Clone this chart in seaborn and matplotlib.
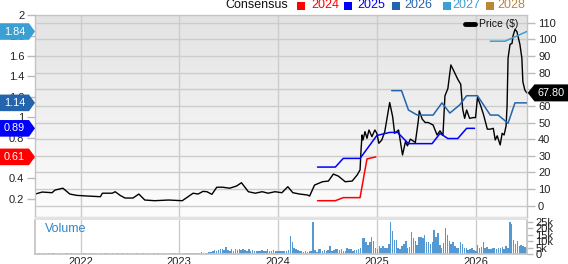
import numpy as np
import pandas as pd
import matplotlib
matplotlib.use("Agg")
import matplotlib.pyplot as plt
import seaborn as sns
from matplotlib.patches import Polygon, Rectangle
from matplotlib.lines import Line2D
from matplotlib.transforms import IdentityTransform
from matplotlib.colors import LinearSegmentedColormap

# ---------------- data ----------------
price_t = [2021.54, 2021.61, 2021.71, 2021.74, 2021.82, 2021.89, 2021.96, 2022.07, 2022.20, 2022.22,
           2022.32, 2022.35, 2022.40, 2022.45, 2022.53, 2022.59, 2022.65, 2022.75, 2022.89, 2023.03,
           2023.14, 2023.19, 2023.24, 2023.28, 2023.33, 2023.38, 2023.44, 2023.51, 2023.58, 2023.63,
           2023.70, 2023.77, 2023.84, 2023.90, 2023.97, 2024.04, 2024.10, 2024.15, 2024.22, 2024.30,
           2024.32, 2024.37, 2024.45, 2024.51, 2024.56, 2024.61, 2024.68, 2024.75, 2024.80, 2024.83,
           2024.84, 2024.85, 2024.86, 2024.88, 2024.90, 2024.92, 2024.95, 2024.98, 2025.00, 2025.02,
           2025.05, 2025.08, 2025.13, 2025.16, 2025.18, 2025.22, 2025.26, 2025.29, 2025.31, 2025.34,
           2025.39, 2025.42, 2025.43, 2025.46, 2025.49, 2025.52, 2025.57, 2025.61, 2025.64, 2025.67,
           2025.69, 2025.72, 2025.75, 2025.78, 2025.82, 2025.85, 2025.87, 2025.89, 2025.91, 2025.94,
           2025.98, 2026.00, 2026.02, 2026.05, 2026.08, 2026.12, 2026.15, 2026.18, 2026.20, 2026.22,
           2026.25, 2026.27, 2026.29, 2026.31, 2026.32, 2026.33, 2026.35, 2026.37, 2026.38, 2026.40,
           2026.42, 2026.43, 2026.45, 2026.47, 2026.48, 2026.50, 2026.52]
price_v = [7.0, 8.2, 7.8, 9.4, 10.5, 7.0, 6.2, 5.8, 5.4, 7.5,
           7.5, 8.4, 6.2, 4.6, 4.6, 7.0, 3.4, 3.0, 3.4, 3.0,
           7.5, 7.0, 8.6, 8.4, 6.8, 11.1, 11.1, 10.5, 11.8, 13.8,
           8.4, 7.5, 8.4, 7.5, 8.4, 7.8, 11.4, 7.8, 7.0, 6.4,
           5.8, 12.4, 14.4, 14.8, 19.0, 17.8, 14.4, 14.8, 18.4, 21.5,
           33.5, 42.5, 39.5, 44.5, 40.5, 45.5, 41.5, 45.5, 43.5, 37.5,
           39.5, 44.5, 62.0, 53.5, 43.5, 45.5, 30.5, 38.5, 36.0, 40.0,
           38.0, 51.0, 57.0, 52.0, 50.0, 50.0, 48.5, 42.5, 45.0, 42.4,
           66.0, 70.5, 84.6, 81.0, 76.0, 73.0, 58.0, 52.5, 57.5, 52.5,
           53.0, 52.9, 65.0, 60.5, 55.0, 46.0, 46.0, 46.5, 39.5, 42.0,
           36.5, 43.5, 42.5, 48.0, 60.0, 88.7, 97.0, 97.5, 102.0, 106.0,
           104.6, 102.0, 97.0, 88.6, 74.5, 69.5, 67.8]

eps2024_t = [2024.40, 2024.58, 2024.66, 2024.83, 2024.90, 2024.99]
eps2024_v = [0.18, 0.18, 0.21, 0.21, 0.59, 0.61]
eps2025_t = [2024.40, 2024.58, 2024.66, 2024.83, 2025.00, 2025.13, 2025.21, 2025.32, 2025.56,
             2025.64, 2025.72, 2025.82, 2025.91, 2025.99]
eps2025_v = [0.51, 0.51, 0.595, 0.595, 0.82, 0.85, 0.85, 0.74, 0.74, 0.84, 0.79, 0.79, 0.89, 0.89]
eps2026_t = [2025.15, 2025.25, 2025.32, 2025.41, 2025.57, 2025.66, 2025.74, 2025.84, 2025.91,
             2026.02, 2026.15, 2026.23, 2026.33, 2026.40, 2026.52]
eps2026_v = [1.26, 1.26, 1.07, 1.02, 1.02, 1.14, 1.04, 1.12, 1.21, 1.21, 1.02, 1.02, 0.94, 1.14, 1.14]
eps2027_t = [2026.15, 2026.30, 2026.52]
eps2027_v = [1.745, 1.745, 1.84]

# weekly volume (thousands), starting mid-July 2021
volume_start = "2021-07-16"
volume_k = [
    0.4, 0.3, 0.5, 0.3, 0.4, 0.6, 0.3, 0.4, 0.3, 0.5,
    0.4, 0.3, 0.3, 0.5, 0.4, 0.3, 0.6, 0.4, 0.3, 0.4,
    0.3, 0.5, 0.3, 0.4, 0.3, 0.3, 0.4, 0.5, 0.3, 0.4,
    0.3, 0.4, 0.6, 0.3, 0.3, 0.4, 0.3, 0.5, 0.4, 0.3,
    0.3, 0.4, 0.3, 0.3, 0.5, 0.3, 0.4, 0.3, 0.3, 0.4,
    0.3, 0.3, 0.4, 0.3, 0.5, 0.3, 0.3, 0.4, 0.3, 0.3,
    0.4, 0.3, 0.3, 0.5, 0.3, 0.4, 0.3, 0.3, 0.4, 0.3,
    0.3, 0.4, 0.3, 0.5, 0.4, 0.3, 0.4, 0.3, 0.4, 0.5,
    0.4,
    0.6, 0.8, 0.5, 0.7, 1.0, 0.6, 0.8, 1.2, 0.7, 0.9, 1.0, 1.3,
    1.5, 2.5, 3, 2.5, 3, 3.5, 4, 3, 5.5, 3, 2.5, 4, 2.5, 3.5, 3, 4, 3, 4, 3, 2.5,
    3.5, 2.5, 3, 2, 2.5, 2, 2, 3, 2, 2.5, 3.5, 2.5, 2, 3, 2.5, 2,
    2, 2.5, 2, 2.5, 2, 3, 14, 9.5, 5, 3.5, 3, 2.5, 2, 1.5, 2, 1.5, 2, 2.5, 24.5, 3,
    1.5, 3.5, 3.5, 2.5, 3, 2, 3, 6, 2.5, 3, 4, 4, 3, 3.5, 2, 2.5, 5, 3.5, 3.5, 2.5,
    3, 3, 4, 5, 12.5, 12.5, 9, 7, 9.5, 13, 10, 5, 4, 6, 4.5, 6.5, 5, 4.5, 8, 24.5,
    18, 11, 11, 5, 4, 6, 8, 10, 5, 5.5, 17, 12, 10, 7, 13, 13, 12, 15, 9.5, 9.5,
    8, 9.5, 18.5, 13.5, 16, 7, 5, 8.5, 20, 15, 10, 8, 9, 6, 5, 4.5, 9, 8, 5, 4.5,
    3, 4, 4.5, 3, 2.5, 7, 5, 5.5, 9, 4.5, 5.5, 4, 3.5, 4.5, 5, 4, 5, 5, 5.5, 4,
    6, 5, 25, 23, 11, 8, 10, 6, 7, 6.5, 5.5, 5]

year_ticks = [2022, 2023, 2024, 2025, 2026]
consensus_years = ["2024", "2025", "2026", "2027", "2028"]
consensus_colors = ["#ff0000", "#0000ff", "#2464ad", "#3a9fd3", "#b8873a"]
flag_values = [1.84, 1.14, 0.89, 0.61]
flag_colors = ["#3a9fd3", "#2464ad", "#0000ff", "#ff0000"]
last_price = 67.80


def to_dt(ts):
    out = []
    for t in ts:
        y = int(np.floor(t))
        start = pd.Timestamp(year=y, month=1, day=1)
        days = (pd.Timestamp(year=y + 1, month=1, day=1) - start).days
        out.append(start + pd.Timedelta(days=(t - y) * days))
    return pd.to_datetime(out)


# ---------------- figure ----------------
sns.set_theme(style="white")
plt.rcParams["font.family"] = ["Liberation Sans", "DejaVu Sans"]

W, H = 568, 264
fig = plt.figure(figsize=(W / 100, H / 100), dpi=100)
fig.patch.set_facecolor("white")


def px_rect(l, t, r, b):
    return [l / W, 1 - b / H, (r - l) / W, (b - t) / H]


L, R = 35.3, 527.0
PT, PB = 14.7, 216.5
VT, VB = 219.5, 254.0

grid_c = "#cccccc"
spine_c = "#c4c4c4"
tick_c = "#bbbbbb"
lab_c = "#222222"

# gradient background
bg = fig.add_axes(px_rect(L, PT, R, PB), zorder=-2)
cmap = LinearSegmentedColormap.from_list("g", ["#e3e3e3", "#fdfdfd"])
bg.imshow(np.linspace(0, 1, 256).reshape(-1, 1), cmap=cmap, aspect="auto",
          extent=[0, 1, 0, 1])
bg.axis("off")

ax = fig.add_axes(px_rect(L, PT, R, PB))
ax.patch.set_alpha(0)
ax2 = ax.twinx()
axv = fig.add_axes(px_rect(L, VT, R, VB))

xlim = to_dt([2021.540, 2026.522])
ytick_dates = to_dt(year_ticks)

# price (right axis)
sns.lineplot(x=to_dt(price_t), y=price_v, ax=ax, color="black", linewidth=1.0)
ax.set_xlim(xlim[0], xlim[1])
ax.set_ylim(-6.5, 114.8)
ax.set_yticks(range(0, 111, 10))
ax.set_xticks(ytick_dates)
ax.grid(True, color=grid_c, linewidth=1.0)
ax.set_xlabel("")
ax.set_ylabel("")
for s in ax.spines.values():
    s.set_color(spine_c)
    s.set_linewidth(1)

# EPS consensus (left axis)
for ts, vs, c in [(eps2024_t, eps2024_v, consensus_colors[0]),
                  (eps2025_t, eps2025_v, consensus_colors[1]),
                  (eps2026_t, eps2026_v, consensus_colors[2]),
                  (eps2027_t, eps2027_v, consensus_colors[3])]:
    sns.lineplot(x=to_dt(ts), y=vs, ax=ax2, color=c, linewidth=1.1)
ax2.set_xlim(xlim[0], xlim[1])
ax2.set_ylim(0.025, 2.005)
eps_ticks = np.round(np.arange(0.2, 2.01, 0.2), 1)
ax2.set_yticks(eps_ticks)
ax2.set_yticklabels([f"{v:g}" for v in eps_ticks])
ax2.set_ylabel("")
for s in ax2.spines.values():
    s.set_visible(False)

# tick placement (after twinx)
ax.yaxis.set_ticks_position("right")
ax.tick_params(axis="y", which="both", right=True, left=False, labelright=True, labelleft=False,
               length=6, width=1, color=tick_c, labelsize=8, pad=2, labelcolor=lab_c)
ax.tick_params(axis="x", length=0, labelbottom=False)
ax2.yaxis.set_ticks_position("left")
ax2.tick_params(axis="y", which="both", left=True, right=False, labelleft=True, labelright=False,
                length=6, width=1, color=tick_c, labelsize=8, pad=2, labelcolor=lab_c)
ax2.tick_params(axis="x", length=0, labelbottom=False)

# volume
vdates = pd.date_range(volume_start, periods=len(volume_k), freq="7D")
axv.bar(vdates, volume_k, width=5.5, color="#5599d3", edgecolor="none")
axv.set_xlim(xlim[0], xlim[1])
axv.set_ylim(0, 26.7)
axv.set_yticks([0, 5, 10, 15, 20, 25])
axv.set_yticklabels(["0", "5k", "10k", "15k", "20k", "25k"])
axv.yaxis.set_ticks_position("right")
axv.tick_params(axis="y", right=True, left=False, labelright=True, labelleft=False,
                length=4, width=1, color=tick_c, labelsize=8, pad=2, labelcolor=lab_c)
axv.set_xticks(ytick_dates)
axv.set_xticklabels([str(y) for y in year_ticks])
axv.tick_params(axis="x", length=0, labelsize=8, pad=2.5, labelcolor=lab_c)
axv.grid(True, axis="x", color=grid_c, linewidth=1.0)
for s in axv.spines.values():
    s.set_color(spine_c)
axv.spines["top"].set_visible(False)
axv.text(0.02, 0.72, "Volume", transform=axv.transAxes, color="#2f87c8", fontsize=9,
         va="center", ha="left")

# grey separator band
fig.patches.append(Rectangle((L / W, 1 - VT / H), (R - L) / W, (VT - PB) / H,
                             transform=fig.transFigure, facecolor="#e2e2e2",
                             edgecolor="none", zorder=1))

# left flags for consensus values
for v, c in zip(flag_values, flag_colors):
    yd = ax2.transData.transform((0, v))[1]
    hh = 8.3
    pts = [(0, yd - hh), (29, yd - hh), (35, yd), (29, yd + hh), (0, yd + hh)]
    fig.patches.append(Polygon(pts, closed=True, transform=IdentityTransform(),
                               facecolor=c, edgecolor="none", zorder=5))
    fig.text(14.5 / W, yd / H, f"{v:.2f}", color="white", fontsize=7.8,
             ha="center", va="center", zorder=6)

# right flag for last price
yd = ax.transData.transform((0, last_price))[1]
hh = 8.5
pts = [(527.7, yd), (534.5, yd - hh), (568, yd - hh), (568, yd + hh), (534.5, yd + hh)]
fig.patches.append(Polygon(pts, closed=True, transform=IdentityTransform(),
                           facecolor="black", edgecolor="none", zorder=5))
fig.text(551 / W, yd / H, f"{last_price:.2f}", color="white", fontsize=7.8,
         ha="center", va="center", zorder=6)

# top legend
ly = H - 5.5
fig.text(225 / W, ly / H, "Consensus", color="#111111", fontsize=9, ha="left", va="center")
sq_x = [297, 344, 392, 443, 486]
tx_x = [311, 357, 404, 452, 497]
for lab, c, sx, tx in zip(consensus_years, consensus_colors, sq_x, tx_x):
    fig.patches.append(Rectangle((sx, ly - 4), 8, 8, transform=IdentityTransform(),
                                 facecolor=c, edgecolor="none", zorder=5))
    fig.text(tx / W, ly / H, lab, color=c, fontsize=9, ha="left", va="center")

# price legend
py = H - 24.3
fig.add_artist(Line2D([465, 475], [py, py], transform=IdentityTransform(),
                      color="black", linewidth=3.5, zorder=5))
fig.text(479 / W, py / H, "Price ($)", color="#111111", fontsize=7.5, ha="left", va="center")

fig.savefig("out.png", dpi=100)
